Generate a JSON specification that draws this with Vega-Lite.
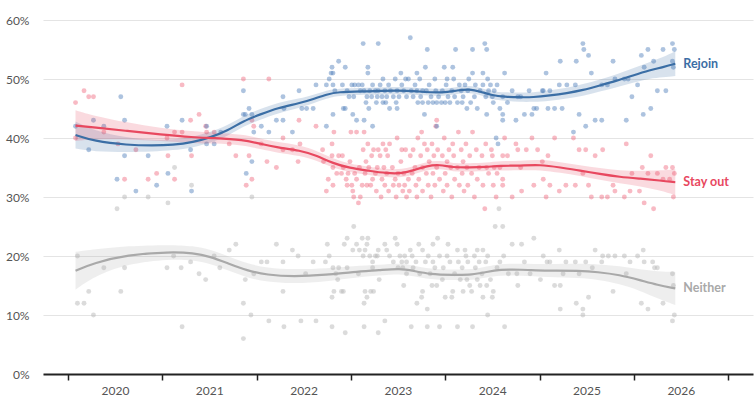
{
  "$schema": "https://vega.github.io/schema/vega-lite/v6.json",
  "width": 710,
  "height": 354,
  "autosize": {"type": "none"},
  "padding": {"left": 43, "top": 20, "right": 3, "bottom": 33},
  "config": {
    "view": {"stroke": null},
    "axis": {"labelFont": "Lato", "labelFontSize": 12, "labelColor": "#555555"},
    "text": {"font": "Lato"}
  },
  "datasets": {
    "rejoin": [
      {"t":2020.08,"v":42},{"t":2020.22,"v":38},{"t":2020.27,"v":43},{"t":2020.38,"v":42},{"t":2020.56,"v":47},{"t":2020.60,"v":43},{"t":2020.60,"v":37},{"t":2020.52,"v":33},{"t":2020.72,"v":31},{"t":2020.85,"v":37},{"t":2020.94,"v":32},{"t":2021.05,"v":42},{"t":2021.06,"v":34},{"t":2021.21,"v":43},{"t":2021.30,"v":38},{"t":2021.31,"v":31},{"t":2021.47,"v":42},{"t":2021.47,"v":39},{"t":2021.55,"v":39},{"t":2021.62,"v":41},{"t":2021.86,"v":48},{"t":2021.86,"v":44},{"t":2021.88,"v":44},{"t":2021.92,"v":45},{"t":2021.95,"v":44},{"t":2021.95,"v":36},{"t":2021.89,"v":34},{"t":2021.97,"v":41},{"t":2022.05,"v":42},{"t":2022.13,"v":41},{"t":2022.21,"v":43},{"t":2022.28,"v":43},{"t":2022.29,"v":45},{"t":2022.28,"v":47},{"t":2022.38,"v":41},{"t":2022.45,"v":48},{"t":2022.48,"v":45},{"t":2022.53,"v":45},{"t":2022.60,"v":45},{"t":2022.63,"v":49},{"t":2022.74,"v":42},{"t":2022.74,"v":49},{"t":2022.77,"v":50},{"t":2022.79,"v":51},{"t":2022.80,"v":52},{"t":2022.81,"v":51},{"t":2022.81,"v":49},{"t":2022.81,"v":44},{"t":2022.83,"v":48},{"t":2022.87,"v":53},{"t":2022.91,"v":49},{"t":2022.92,"v":45},{"t":2022.94,"v":52},{"t":2022.94,"v":45},{"t":2022.96,"v":48},{"t":2022.98,"v":47},{"t":2023.01,"v":49},{"t":2023.02,"v":44},{"t":2023.03,"v":47},{"t":2023.04,"v":49},{"t":2023.06,"v":43},{"t":2023.08,"v":49},{"t":2023.10,"v":48},{"t":2023.12,"v":49},{"t":2023.13,"v":56},{"t":2023.14,"v":43},{"t":2023.14,"v":48},{"t":2023.16,"v":46},{"t":2023.17,"v":47},{"t":2023.18,"v":52},{"t":2023.18,"v":51},{"t":2023.19,"v":45},{"t":2023.20,"v":48},{"t":2023.22,"v":47},{"t":2023.23,"v":42},{"t":2023.23,"v":49},{"t":2023.26,"v":48},{"t":2023.27,"v":46},{"t":2023.28,"v":47},{"t":2023.29,"v":56},{"t":2023.29,"v":48},{"t":2023.31,"v":49},{"t":2023.33,"v":47},{"t":2023.34,"v":50},{"t":2023.34,"v":46},{"t":2023.36,"v":48},{"t":2023.37,"v":46},{"t":2023.38,"v":47},{"t":2023.40,"v":49},{"t":2023.41,"v":45},{"t":2023.42,"v":48},{"t":2023.45,"v":47},{"t":2023.47,"v":50},{"t":2023.48,"v":46},{"t":2023.49,"v":48},{"t":2023.49,"v":45},{"t":2023.51,"v":47},{"t":2023.53,"v":51},{"t":2023.54,"v":49},{"t":2023.56,"v":48},{"t":2023.58,"v":50},{"t":2023.59,"v":47},{"t":2023.61,"v":50},{"t":2023.63,"v":57},{"t":2023.64,"v":48},{"t":2023.66,"v":47},{"t":2023.68,"v":49},{"t":2023.70,"v":51},{"t":2023.70,"v":48},{"t":2023.71,"v":46},{"t":2023.73,"v":50},{"t":2023.74,"v":47},{"t":2023.76,"v":48},{"t":2023.76,"v":46},{"t":2023.78,"v":44},{"t":2023.79,"v":52},{"t":2023.80,"v":48},{"t":2023.81,"v":55},{"t":2023.82,"v":46},{"t":2023.83,"v":49},{"t":2023.85,"v":47},{"t":2023.87,"v":46},{"t":2023.89,"v":50},{"t":2023.90,"v":48},{"t":2023.91,"v":42},{"t":2023.91,"v":46},{"t":2023.93,"v":47},{"t":2023.96,"v":46},{"t":2023.97,"v":48},{"t":2023.99,"v":52},{"t":2024.00,"v":46},{"t":2024.01,"v":49},{"t":2024.02,"v":50},{"t":2024.03,"v":47},{"t":2024.05,"v":46},{"t":2024.07,"v":48},{"t":2024.08,"v":52},{"t":2024.09,"v":50},{"t":2024.10,"v":47},{"t":2024.11,"v":55},{"t":2024.13,"v":46},{"t":2024.15,"v":49},{"t":2024.17,"v":48},{"t":2024.18,"v":46},{"t":2024.19,"v":47},{"t":2024.21,"v":49},{"t":2024.23,"v":45},{"t":2024.24,"v":48},{"t":2024.25,"v":50},{"t":2024.27,"v":46},{"t":2024.29,"v":51},{"t":2024.29,"v":55},{"t":2024.31,"v":47},{"t":2024.32,"v":49},{"t":2024.34,"v":45},{"t":2024.37,"v":48},{"t":2024.40,"v":51},{"t":2024.40,"v":49},{"t":2024.42,"v":56},{"t":2024.43,"v":47},{"t":2024.44,"v":44},{"t":2024.44,"v":55},{"t":2024.45,"v":50},{"t":2024.46,"v":48},{"t":2024.48,"v":49},{"t":2024.50,"v":47},{"t":2024.51,"v":46},{"t":2024.52,"v":48},{"t":2024.54,"v":40},{"t":2024.55,"v":49},{"t":2024.56,"v":39},{"t":2024.58,"v":45},{"t":2024.61,"v":47},{"t":2024.63,"v":51},{"t":2024.61,"v":44},{"t":2024.61,"v":43},{"t":2024.66,"v":46},{"t":2024.71,"v":48},{"t":2024.75,"v":43},{"t":2024.77,"v":47},{"t":2024.80,"v":47},{"t":2024.84,"v":44},{"t":2024.89,"v":48},{"t":2024.92,"v":44},{"t":2024.94,"v":45},{"t":2024.97,"v":45},{"t":2025.03,"v":48},{"t":2025.04,"v":48},{"t":2025.07,"v":51},{"t":2025.09,"v":45},{"t":2025.11,"v":48},{"t":2025.16,"v":45},{"t":2025.21,"v":49},{"t":2025.22,"v":53},{"t":2025.24,"v":45},{"t":2025.29,"v":49},{"t":2025.36,"v":41},{"t":2025.38,"v":49},{"t":2025.39,"v":53},{"t":2025.42,"v":44},{"t":2025.46,"v":56},{"t":2025.47,"v":55},{"t":2025.49,"v":42},{"t":2025.52,"v":54},{"t":2025.55,"v":51},{"t":2025.59,"v":43},{"t":2025.66,"v":43},{"t":2025.66,"v":49},{"t":2025.72,"v":49},{"t":2025.78,"v":53},{"t":2025.80,"v":50},{"t":2025.90,"v":50},{"t":2025.92,"v":43},{"t":2025.94,"v":50},{"t":2025.98,"v":47},{"t":2026.04,"v":49},{"t":2026.08,"v":54},{"t":2026.10,"v":44},{"t":2026.11,"v":52},{"t":2026.15,"v":55},{"t":2026.18,"v":45},{"t":2026.21,"v":53},{"t":2026.25,"v":48},{"t":2026.31,"v":55},{"t":2026.34,"v":48},{"t":2026.41,"v":56},{"t":2026.41,"v":53},{"t":2026.43,"v":55},{"t":2026.42,"v":52}
    ],
    "stayout": [
      {"t":2020.08,"v":46},{"t":2020.08,"v":40},{"t":2020.17,"v":48},{"t":2020.22,"v":47},{"t":2020.27,"v":47},{"t":2020.38,"v":41},{"t":2020.53,"v":39},{"t":2020.60,"v":33},{"t":2020.72,"v":38},{"t":2020.85,"v":33},{"t":2020.94,"v":34},{"t":2021.05,"v":40},{"t":2021.06,"v":37},{"t":2021.13,"v":41},{"t":2021.13,"v":33},{"t":2021.21,"v":49},{"t":2021.21,"v":41},{"t":2021.30,"v":43},{"t":2021.31,"v":37},{"t":2021.39,"v":44},{"t":2021.46,"v":42},{"t":2021.47,"v":41},{"t":2021.55,"v":41},{"t":2021.71,"v":39},{"t":2021.78,"v":37},{"t":2021.86,"v":50},{"t":2021.89,"v":32},{"t":2021.92,"v":37},{"t":2021.95,"v":33},{"t":2021.95,"v":43},{"t":2021.97,"v":42},{"t":2022.05,"v":39},{"t":2022.11,"v":36},{"t":2022.13,"v":50},{"t":2022.21,"v":35},{"t":2022.28,"v":40},{"t":2022.28,"v":38},{"t":2022.38,"v":38},{"t":2022.44,"v":36},{"t":2022.45,"v":43},{"t":2022.46,"v":39},{"t":2022.63,"v":42},{"t":2022.70,"v":38},{"t":2022.71,"v":36},{"t":2022.74,"v":31},{"t":2022.76,"v":33},{"t":2022.80,"v":39},{"t":2022.80,"v":37},{"t":2022.81,"v":35},{"t":2022.81,"v":32},{"t":2022.82,"v":41},{"t":2022.85,"v":34},{"t":2022.87,"v":37},{"t":2022.90,"v":34},{"t":2022.91,"v":37},{"t":2022.92,"v":35},{"t":2022.95,"v":33},{"t":2022.96,"v":32},{"t":2022.97,"v":34},{"t":2022.99,"v":36},{"t":2023.00,"v":41},{"t":2023.01,"v":32},{"t":2023.02,"v":31},{"t":2023.03,"v":30},{"t":2023.04,"v":34},{"t":2023.06,"v":33},{"t":2023.06,"v":41},{"t":2023.08,"v":29},{"t":2023.09,"v":35},{"t":2023.10,"v":30},{"t":2023.12,"v":32},{"t":2023.13,"v":38},{"t":2023.14,"v":41},{"t":2023.15,"v":34},{"t":2023.16,"v":36},{"t":2023.17,"v":32},{"t":2023.18,"v":39},{"t":2023.19,"v":35},{"t":2023.21,"v":32},{"t":2023.22,"v":37},{"t":2023.23,"v":33},{"t":2023.24,"v":38},{"t":2023.26,"v":34},{"t":2023.27,"v":31},{"t":2023.28,"v":35},{"t":2023.29,"v":38},{"t":2023.31,"v":37},{"t":2023.32,"v":30},{"t":2023.33,"v":33},{"t":2023.34,"v":39},{"t":2023.35,"v":35},{"t":2023.36,"v":32},{"t":2023.37,"v":38},{"t":2023.38,"v":34},{"t":2023.39,"v":37},{"t":2023.40,"v":31},{"t":2023.41,"v":39},{"t":2023.44,"v":35},{"t":2023.45,"v":32},{"t":2023.47,"v":33},{"t":2023.48,"v":30},{"t":2023.49,"v":40},{"t":2023.50,"v":34},{"t":2023.51,"v":32},{"t":2023.53,"v":36},{"t":2023.54,"v":38},{"t":2023.55,"v":31},{"t":2023.56,"v":34},{"t":2023.57,"v":32},{"t":2023.58,"v":38},{"t":2023.59,"v":30},{"t":2023.61,"v":33},{"t":2023.62,"v":31},{"t":2023.63,"v":37},{"t":2023.65,"v":34},{"t":2023.66,"v":38},{"t":2023.68,"v":35},{"t":2023.69,"v":32},{"t":2023.70,"v":30},{"t":2023.71,"v":40},{"t":2023.72,"v":33},{"t":2023.74,"v":37},{"t":2023.75,"v":41},{"t":2023.76,"v":35},{"t":2023.76,"v":31},{"t":2023.78,"v":39},{"t":2023.80,"v":34},{"t":2023.81,"v":38},{"t":2023.82,"v":32},{"t":2023.83,"v":36},{"t":2023.85,"v":30},{"t":2023.86,"v":39},{"t":2023.87,"v":34},{"t":2023.88,"v":37},{"t":2023.89,"v":32},{"t":2023.90,"v":42},{"t":2023.91,"v":43},{"t":2023.91,"v":35},{"t":2023.92,"v":38},{"t":2023.94,"v":33},{"t":2023.97,"v":37},{"t":2023.98,"v":31},{"t":2023.99,"v":40},{"t":2024.00,"v":34},{"t":2024.02,"v":36},{"t":2024.02,"v":32},{"t":2024.04,"v":38},{"t":2024.06,"v":35},{"t":2024.07,"v":30},{"t":2024.08,"v":39},{"t":2024.09,"v":37},{"t":2024.10,"v":33},{"t":2024.13,"v":35},{"t":2024.14,"v":41},{"t":2024.15,"v":32},{"t":2024.17,"v":38},{"t":2024.18,"v":34},{"t":2024.19,"v":36},{"t":2024.20,"v":31},{"t":2024.22,"v":39},{"t":2024.23,"v":35},{"t":2024.24,"v":32},{"t":2024.26,"v":37},{"t":2024.28,"v":34},{"t":2024.29,"v":41},{"t":2024.31,"v":30},{"t":2024.33,"v":38},{"t":2024.34,"v":33},{"t":2024.36,"v":35},{"t":2024.39,"v":37},{"t":2024.40,"v":32},{"t":2024.42,"v":28},{"t":2024.43,"v":39},{"t":2024.44,"v":35},{"t":2024.46,"v":34},{"t":2024.49,"v":38},{"t":2024.50,"v":37},{"t":2024.51,"v":32},{"t":2024.52,"v":35},{"t":2024.54,"v":30},{"t":2024.55,"v":34},{"t":2024.58,"v":35},{"t":2024.61,"v":33},{"t":2024.61,"v":32},{"t":2024.63,"v":40},{"t":2024.61,"v":37},{"t":2024.66,"v":37},{"t":2024.71,"v":30},{"t":2024.75,"v":39},{"t":2024.77,"v":38},{"t":2024.80,"v":35},{"t":2024.81,"v":31},{"t":2024.86,"v":38},{"t":2024.92,"v":40},{"t":2024.94,"v":32},{"t":2024.98,"v":38},{"t":2025.03,"v":36},{"t":2025.04,"v":33},{"t":2025.07,"v":30},{"t":2025.09,"v":37},{"t":2025.11,"v":32},{"t":2025.16,"v":40},{"t":2025.21,"v":31},{"t":2025.28,"v":32},{"t":2025.36,"v":40},{"t":2025.38,"v":32},{"t":2025.42,"v":38},{"t":2025.46,"v":34},{"t":2025.49,"v":38},{"t":2025.52,"v":32},{"t":2025.55,"v":30},{"t":2025.59,"v":37},{"t":2025.66,"v":30},{"t":2025.67,"v":38},{"t":2025.72,"v":30},{"t":2025.78,"v":32},{"t":2025.80,"v":31},{"t":2025.90,"v":30},{"t":2025.92,"v":39},{"t":2025.96,"v":31},{"t":2025.98,"v":34},{"t":2026.06,"v":31},{"t":2026.09,"v":35},{"t":2026.11,"v":29},{"t":2026.15,"v":34},{"t":2026.18,"v":37},{"t":2026.21,"v":28},{"t":2026.25,"v":34},{"t":2026.31,"v":33},{"t":2026.34,"v":35},{"t":2026.41,"v":35},{"t":2026.43,"v":34},{"t":2026.42,"v":30},{"t":2026.38,"v":33}
    ],
    "neither": [
      {"t":2020.10,"v":20},{"t":2020.10,"v":12},{"t":2020.17,"v":12},{"t":2020.22,"v":14},{"t":2020.27,"v":10},{"t":2020.38,"v":18},{"t":2020.52,"v":28},{"t":2020.56,"v":14},{"t":2020.60,"v":18},{"t":2020.60,"v":30},{"t":2020.85,"v":30},{"t":2021.05,"v":18},{"t":2021.06,"v":29},{"t":2021.12,"v":20},{"t":2021.13,"v":35},{"t":2021.20,"v":18},{"t":2021.21,"v":8},{"t":2021.30,"v":19},{"t":2021.31,"v":32},{"t":2021.39,"v":17},{"t":2021.46,"v":16},{"t":2021.55,"v":20},{"t":2021.61,"v":18},{"t":2021.71,"v":21},{"t":2021.78,"v":22},{"t":2021.86,"v":12},{"t":2021.86,"v":6},{"t":2021.88,"v":16},{"t":2021.94,"v":10},{"t":2021.95,"v":30},{"t":2021.97,"v":17},{"t":2022.05,"v":19},{"t":2022.11,"v":19},{"t":2022.13,"v":9},{"t":2022.21,"v":22},{"t":2022.28,"v":19},{"t":2022.28,"v":14},{"t":2022.29,"v":8},{"t":2022.38,"v":21},{"t":2022.44,"v":20},{"t":2022.47,"v":9},{"t":2022.52,"v":17},{"t":2022.60,"v":19},{"t":2022.63,"v":9},{"t":2022.73,"v":19},{"t":2022.75,"v":22},{"t":2022.77,"v":20},{"t":2022.80,"v":8},{"t":2022.81,"v":18},{"t":2022.80,"v":13},{"t":2022.82,"v":14},{"t":2022.84,"v":17},{"t":2022.86,"v":16},{"t":2022.87,"v":18},{"t":2022.90,"v":14},{"t":2022.92,"v":14},{"t":2022.93,"v":22},{"t":2022.94,"v":7},{"t":2022.96,"v":18},{"t":2022.96,"v":23},{"t":2023.02,"v":21},{"t":2023.03,"v":25},{"t":2023.06,"v":22},{"t":2023.08,"v":17},{"t":2023.09,"v":21},{"t":2023.12,"v":23},{"t":2023.13,"v":20},{"t":2023.14,"v":12},{"t":2023.14,"v":8},{"t":2023.15,"v":14},{"t":2023.15,"v":21},{"t":2023.17,"v":22},{"t":2023.17,"v":13},{"t":2023.18,"v":23},{"t":2023.20,"v":20},{"t":2023.21,"v":14},{"t":2023.23,"v":19},{"t":2023.23,"v":18},{"t":2023.24,"v":14},{"t":2023.26,"v":20},{"t":2023.28,"v":20},{"t":2023.29,"v":21},{"t":2023.29,"v":7},{"t":2023.30,"v":16},{"t":2023.36,"v":22},{"t":2023.36,"v":9},{"t":2023.38,"v":21},{"t":2023.41,"v":20},{"t":2023.45,"v":19},{"t":2023.47,"v":23},{"t":2023.49,"v":22},{"t":2023.50,"v":18},{"t":2023.52,"v":20},{"t":2023.54,"v":19},{"t":2023.55,"v":18},{"t":2023.56,"v":15},{"t":2023.57,"v":20},{"t":2023.59,"v":19},{"t":2023.59,"v":17},{"t":2023.63,"v":21},{"t":2023.64,"v":8},{"t":2023.65,"v":20},{"t":2023.66,"v":18},{"t":2023.69,"v":19},{"t":2023.70,"v":12},{"t":2023.72,"v":22},{"t":2023.73,"v":17},{"t":2023.75,"v":13},{"t":2023.76,"v":21},{"t":2023.76,"v":14},{"t":2023.79,"v":19},{"t":2023.81,"v":11},{"t":2023.81,"v":8},{"t":2023.82,"v":20},{"t":2023.84,"v":17},{"t":2023.86,"v":15},{"t":2023.87,"v":22},{"t":2023.87,"v":19},{"t":2023.89,"v":18},{"t":2023.91,"v":15},{"t":2023.92,"v":23},{"t":2023.94,"v":8},{"t":2023.94,"v":20},{"t":2023.97,"v":16},{"t":2023.98,"v":18},{"t":2024.00,"v":13},{"t":2024.02,"v":20},{"t":2024.03,"v":22},{"t":2024.05,"v":19},{"t":2024.07,"v":13},{"t":2024.08,"v":14},{"t":2024.10,"v":17},{"t":2024.13,"v":21},{"t":2024.13,"v":8},{"t":2024.14,"v":19},{"t":2024.16,"v":16},{"t":2024.18,"v":18},{"t":2024.19,"v":14},{"t":2024.21,"v":21},{"t":2024.22,"v":20},{"t":2024.23,"v":16},{"t":2024.24,"v":19},{"t":2024.26,"v":15},{"t":2024.28,"v":14},{"t":2024.29,"v":8},{"t":2024.31,"v":20},{"t":2024.32,"v":18},{"t":2024.34,"v":21},{"t":2024.34,"v":16},{"t":2024.36,"v":19},{"t":2024.37,"v":15},{"t":2024.39,"v":17},{"t":2024.40,"v":13},{"t":2024.40,"v":21},{"t":2024.43,"v":19},{"t":2024.44,"v":15},{"t":2024.45,"v":10},{"t":2024.45,"v":20},{"t":2024.48,"v":16},{"t":2024.50,"v":13},{"t":2024.51,"v":14},{"t":2024.53,"v":25},{"t":2024.55,"v":18},{"t":2024.57,"v":28},{"t":2024.58,"v":19},{"t":2024.61,"v":25},{"t":2024.62,"v":20},{"t":2024.63,"v":8},{"t":2024.67,"v":17},{"t":2024.71,"v":22},{"t":2024.76,"v":17},{"t":2024.77,"v":15},{"t":2024.81,"v":22},{"t":2024.84,"v":19},{"t":2024.90,"v":17},{"t":2024.94,"v":23},{"t":2025.01,"v":16},{"t":2025.04,"v":20},{"t":2025.08,"v":19},{"t":2025.11,"v":19},{"t":2025.16,"v":15},{"t":2025.22,"v":11},{"t":2025.21,"v":21},{"t":2025.22,"v":15},{"t":2025.25,"v":17},{"t":2025.28,"v":19},{"t":2025.38,"v":19},{"t":2025.39,"v":12},{"t":2025.42,"v":17},{"t":2025.46,"v":11},{"t":2025.46,"v":10},{"t":2025.49,"v":19},{"t":2025.52,"v":13},{"t":2025.56,"v":18},{"t":2025.59,"v":21},{"t":2025.66,"v":19},{"t":2025.67,"v":20},{"t":2025.73,"v":20},{"t":2025.78,"v":14},{"t":2025.80,"v":20},{"t":2025.90,"v":20},{"t":2025.92,"v":17},{"t":2025.96,"v":19},{"t":2026.04,"v":20},{"t":2026.08,"v":12},{"t":2026.10,"v":21},{"t":2026.11,"v":19},{"t":2026.15,"v":11},{"t":2026.20,"v":19},{"t":2026.22,"v":18},{"t":2026.25,"v":18},{"t":2026.31,"v":12},{"t":2026.41,"v":17},{"t":2026.42,"v":15},{"t":2026.41,"v":9},{"t":2026.43,"v":10}
    ],
    "fit": [
      {"s":"Rejoin","t":2020.08,"v":40.5,"lo":38.2,"hi":42.8},
      {"s":"Rejoin","t":2020.27,"v":39.5,"lo":37.7,"hi":41.3},
      {"s":"Rejoin","t":2020.63,"v":38.8,"lo":37.6,"hi":40.0},
      {"s":"Rejoin","t":2020.90,"v":38.7,"lo":37.7,"hi":39.7},
      {"s":"Rejoin","t":2021.11,"v":38.8,"lo":37.9,"hi":39.7},
      {"s":"Rejoin","t":2021.33,"v":39.3,"lo":38.4,"hi":40.2},
      {"s":"Rejoin","t":2021.51,"v":40.1,"lo":39.2,"hi":41.0},
      {"s":"Rejoin","t":2021.69,"v":41.2,"lo":40.3,"hi":42.1},
      {"s":"Rejoin","t":2021.86,"v":42.9,"lo":42.0,"hi":43.8},
      {"s":"Rejoin","t":2022.04,"v":44.0,"lo":43.1,"hi":44.9},
      {"s":"Rejoin","t":2022.22,"v":45.1,"lo":44.2,"hi":46.0},
      {"s":"Rejoin","t":2022.46,"v":45.9,"lo":45.1,"hi":46.7},
      {"s":"Rejoin","t":2022.60,"v":46.6,"lo":45.9,"hi":47.3},
      {"s":"Rejoin","t":2022.75,"v":47.4,"lo":46.7,"hi":48.1},
      {"s":"Rejoin","t":2022.85,"v":47.8,"lo":47.2,"hi":48.4},
      {"s":"Rejoin","t":2023.17,"v":47.9,"lo":47.3,"hi":48.5},
      {"s":"Rejoin","t":2023.52,"v":48.1,"lo":47.5,"hi":48.7},
      {"s":"Rejoin","t":2023.70,"v":47.9,"lo":47.3,"hi":48.5},
      {"s":"Rejoin","t":2023.98,"v":47.6,"lo":47.0,"hi":48.2},
      {"s":"Rejoin","t":2024.13,"v":48.1,"lo":47.5,"hi":48.7},
      {"s":"Rejoin","t":2024.26,"v":48.3,"lo":47.7,"hi":48.9},
      {"s":"Rejoin","t":2024.37,"v":47.9,"lo":47.3,"hi":48.5},
      {"s":"Rejoin","t":2024.50,"v":47.2,"lo":46.5,"hi":47.9},
      {"s":"Rejoin","t":2024.63,"v":47.0,"lo":46.3,"hi":47.7},
      {"s":"Rejoin","t":2024.79,"v":46.9,"lo":46.1,"hi":47.7},
      {"s":"Rejoin","t":2024.93,"v":46.9,"lo":46.1,"hi":47.7},
      {"s":"Rejoin","t":2025.11,"v":47.2,"lo":46.3,"hi":48.1},
      {"s":"Rejoin","t":2025.29,"v":47.6,"lo":46.7,"hi":48.5},
      {"s":"Rejoin","t":2025.46,"v":48.1,"lo":47.1,"hi":49.1},
      {"s":"Rejoin","t":2025.64,"v":48.9,"lo":47.9,"hi":49.9},
      {"s":"Rejoin","t":2025.82,"v":49.7,"lo":48.6,"hi":50.8},
      {"s":"Rejoin","t":2025.99,"v":50.6,"lo":49.4,"hi":51.8},
      {"s":"Rejoin","t":2026.17,"v":51.5,"lo":50.1,"hi":52.9},
      {"s":"Rejoin","t":2026.31,"v":52.0,"lo":50.3,"hi":53.7},
      {"s":"Rejoin","t":2026.44,"v":52.6,"lo":50.5,"hi":54.7},
      {"s":"Stay out","t":2020.08,"v":42.1,"lo":39.5,"hi":44.7},
      {"s":"Stay out","t":2020.27,"v":41.8,"lo":39.8,"hi":43.8},
      {"s":"Stay out","t":2020.63,"v":41.2,"lo":39.8,"hi":42.6},
      {"s":"Stay out","t":2020.98,"v":40.6,"lo":39.5,"hi":41.7},
      {"s":"Stay out","t":2021.33,"v":40.1,"lo":39.1,"hi":41.1},
      {"s":"Stay out","t":2021.54,"v":40.0,"lo":39.1,"hi":40.9},
      {"s":"Stay out","t":2021.86,"v":39.7,"lo":38.8,"hi":40.6},
      {"s":"Stay out","t":2022.04,"v":39.0,"lo":38.1,"hi":39.9},
      {"s":"Stay out","t":2022.22,"v":38.4,"lo":37.5,"hi":39.3},
      {"s":"Stay out","t":2022.46,"v":37.9,"lo":37.0,"hi":38.8},
      {"s":"Stay out","t":2022.64,"v":37.0,"lo":36.2,"hi":37.8},
      {"s":"Stay out","t":2022.81,"v":35.7,"lo":34.9,"hi":36.5},
      {"s":"Stay out","t":2022.99,"v":34.9,"lo":34.2,"hi":35.6},
      {"s":"Stay out","t":2023.17,"v":34.5,"lo":33.8,"hi":35.2},
      {"s":"Stay out","t":2023.38,"v":34.0,"lo":33.3,"hi":34.7},
      {"s":"Stay out","t":2023.55,"v":34.0,"lo":33.3,"hi":34.7},
      {"s":"Stay out","t":2023.66,"v":34.5,"lo":33.8,"hi":35.2},
      {"s":"Stay out","t":2023.81,"v":35.3,"lo":34.6,"hi":36.0},
      {"s":"Stay out","t":2023.94,"v":35.5,"lo":34.8,"hi":36.2},
      {"s":"Stay out","t":2024.08,"v":35.0,"lo":34.3,"hi":35.7},
      {"s":"Stay out","t":2024.26,"v":35.0,"lo":34.3,"hi":35.7},
      {"s":"Stay out","t":2024.44,"v":35.1,"lo":34.4,"hi":35.8},
      {"s":"Stay out","t":2024.58,"v":35.3,"lo":34.5,"hi":36.1},
      {"s":"Stay out","t":2024.79,"v":35.3,"lo":34.5,"hi":36.1},
      {"s":"Stay out","t":2025.01,"v":35.5,"lo":34.6,"hi":36.4},
      {"s":"Stay out","t":2025.22,"v":35.0,"lo":34.1,"hi":35.9},
      {"s":"Stay out","t":2025.43,"v":34.5,"lo":33.6,"hi":35.4},
      {"s":"Stay out","t":2025.64,"v":33.9,"lo":32.9,"hi":34.9},
      {"s":"Stay out","t":2025.85,"v":33.4,"lo":32.3,"hi":34.5},
      {"s":"Stay out","t":2026.07,"v":33.1,"lo":31.8,"hi":34.4},
      {"s":"Stay out","t":2026.28,"v":32.8,"lo":31.1,"hi":34.5},
      {"s":"Stay out","t":2026.44,"v":32.5,"lo":30.3,"hi":34.7},
      {"s":"Neither","t":2020.08,"v":17.5,"lo":14.3,"hi":20.7},
      {"s":"Neither","t":2020.27,"v":18.8,"lo":16.5,"hi":21.1},
      {"s":"Neither","t":2020.63,"v":20.2,"lo":18.7,"hi":21.7},
      {"s":"Neither","t":2021.08,"v":20.7,"lo":19.5,"hi":21.9},
      {"s":"Neither","t":2021.33,"v":20.5,"lo":19.3,"hi":21.7},
      {"s":"Neither","t":2021.51,"v":19.9,"lo":18.7,"hi":21.1},
      {"s":"Neither","t":2021.69,"v":18.8,"lo":17.6,"hi":20.0},
      {"s":"Neither","t":2021.90,"v":17.5,"lo":16.3,"hi":18.7},
      {"s":"Neither","t":2022.11,"v":16.8,"lo":15.6,"hi":18.0},
      {"s":"Neither","t":2022.39,"v":16.5,"lo":15.3,"hi":17.7},
      {"s":"Neither","t":2022.75,"v":16.8,"lo":15.7,"hi":17.9},
      {"s":"Neither","t":2023.02,"v":17.3,"lo":16.3,"hi":18.3},
      {"s":"Neither","t":2023.31,"v":17.6,"lo":16.7,"hi":18.5},
      {"s":"Neither","t":2023.52,"v":17.9,"lo":17.0,"hi":18.8},
      {"s":"Neither","t":2023.66,"v":17.5,"lo":16.6,"hi":18.4},
      {"s":"Neither","t":2023.84,"v":16.9,"lo":16.0,"hi":17.8},
      {"s":"Neither","t":2024.08,"v":16.8,"lo":15.9,"hi":17.7},
      {"s":"Neither","t":2024.29,"v":16.8,"lo":15.9,"hi":17.7},
      {"s":"Neither","t":2024.44,"v":17.3,"lo":16.4,"hi":18.2},
      {"s":"Neither","t":2024.58,"v":17.7,"lo":16.7,"hi":18.7},
      {"s":"Neither","t":2024.79,"v":17.7,"lo":16.7,"hi":18.7},
      {"s":"Neither","t":2025.08,"v":17.5,"lo":16.4,"hi":18.6},
      {"s":"Neither","t":2025.43,"v":17.5,"lo":16.3,"hi":18.7},
      {"s":"Neither","t":2025.61,"v":17.3,"lo":16.0,"hi":18.6},
      {"s":"Neither","t":2025.85,"v":16.8,"lo":15.3,"hi":18.3},
      {"s":"Neither","t":2026.07,"v":15.9,"lo":14.1,"hi":17.7},
      {"s":"Neither","t":2026.25,"v":15.1,"lo":12.8,"hi":17.4},
      {"s":"Neither","t":2026.44,"v":14.5,"lo":11.7,"hi":17.3}
    ],
    "ends": [
      {"s":"Rejoin","t":2026.44,"v":52.6},
      {"s":"Stay out","t":2026.44,"v":32.5},
      {"s":"Neither","t":2026.44,"v":14.5}
    ]
  },
  "encoding": {
    "x": {
      "field": "t",
      "type": "quantitative",
      "scale": {"domain": [2019.735, 2027.264], "nice": false, "zero": false},
      "axis": {
        "title": null,
        "values": [2020, 2021, 2022, 2023, 2024, 2025, 2026, 2027],
        "labelExpr": "datum.value < 2027 ? '' + datum.value : ''",
        "labelOffset": 47,
        "labelFlush": false,
        "labelBound": false,
        "grid": false,
        "domainColor": "#222222",
        "domainWidth": 2,
        "tickColor": "#222222",
        "tickWidth": 1.5,
        "tickSize": 6,
        "labelPadding": 5
      }
    },
    "y": {
      "field": "v",
      "type": "quantitative",
      "scale": {"domain": [0, 60], "nice": false},
      "axis": {
        "title": null,
        "values": [0, 10, 20, 30, 40, 50, 60],
        "labelExpr": "datum.value + '%'",
        "domain": false,
        "ticks": false,
        "gridColor": "#e4e4e4",
        "gridWidth": 1.2,
        "labelPadding": 14
      }
    }
  },
  "layer": [
    {
      "data": {"name": "neither"},
      "mark": {"type": "circle", "size": 24, "color": "#b8b8b8", "opacity": 0.5}
    },
    {
      "data": {"name": "stayout"},
      "mark": {"type": "circle", "size": 24, "color": "#ef5a73", "opacity": 0.42}
    },
    {
      "data": {"name": "rejoin"},
      "mark": {"type": "circle", "size": 24, "color": "#4a7ab8", "opacity": 0.45}
    },
    {
      "data": {"name": "fit"},
      "mark": {"type": "area", "opacity": 0.2, "interpolate": "basis"},
      "encoding": {
        "y": {"field": "lo", "type": "quantitative"},
        "y2": {"field": "hi"},
        "color": {
          "field": "s",
          "type": "nominal",
          "scale": {"domain": ["Rejoin", "Stay out", "Neither"], "range": ["#3b6ea5", "#e8485f", "#a9a9a9"]},
          "legend": null
        }
      }
    },
    {
      "data": {"name": "fit"},
      "mark": {"type": "line", "strokeWidth": 2.2, "interpolate": "basis"},
      "encoding": {
        "color": {"field": "s", "type": "nominal", "legend": null}
      }
    },
    {
      "data": {"name": "ends"},
      "mark": {"type": "text", "align": "left", "baseline": "middle", "dx": 8, "fontSize": 12.5, "fontWeight": "bold"},
      "encoding": {
        "text": {"field": "s"},
        "color": {"field": "s", "type": "nominal", "legend": null}
      }
    }
  ]
}
